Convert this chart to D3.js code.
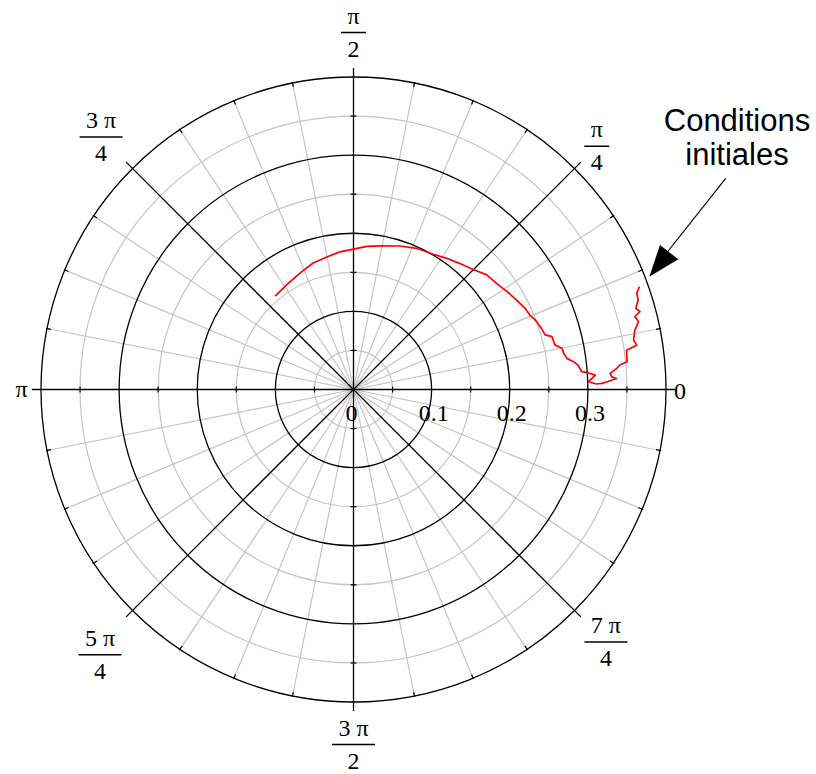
<!DOCTYPE html>
<html>
<head>
<meta charset="utf-8">
<script src="https://cdn.jsdelivr.net/npm/d3@7"></script>
<style>
  body { margin: 0; background: #fff; }
  svg { display: block; }
</style>
</head>
<body>
<svg id="vis"></svg>
<script>
// trajectory, starting at the initial conditions (outer end)
const thetaDeg = [19.8, 18.8, 17.5, 16.0, 15.2, 14.5, 13.4, 11.9, 10.0, 8.9,
  8.2, 5.8, 5.3, 4.6, 3.6, 2.8, 2.4, 1.8, 1.4, 1.3,
  1.9, 3.4, 4.1, 4.5, 6.2, 7.2, 8.3, 9.8, 11.2, 12.5,
  14.9, 15.9, 18.0, 21.0, 22.9, 25.3, 28.7, 32.6, 36.6, 40.7,
  45.1, 49.8, 54.6, 59.5, 65.9, 72.1, 79.6, 84.7, 89.4, 95.6,
  101.4, 107.7, 114.7, 122.6, 130.0];
const radius = [0.389, 0.383, 0.382, 0.376, 0.380, 0.372, 0.375, 0.368, 0.364, 0.367,
  0.353, 0.352, 0.343, 0.338, 0.329, 0.331, 0.337, 0.326, 0.318, 0.311,
  0.301, 0.310, 0.301, 0.293, 0.289, 0.284, 0.276, 0.273, 0.272, 0.264,
  0.263, 0.255, 0.253, 0.249, 0.245, 0.243, 0.238, 0.233, 0.228, 0.225,
  0.217, 0.211, 0.206, 0.201, 0.198, 0.193, 0.187, 0.184, 0.180, 0.177,
  0.173, 0.170, 0.164, 0.159, 0.156];

const majorRings = [0.1, 0.2, 0.3, 0.4];
const minorRings = [0.05, 0.15, 0.25, 0.35];
const radialTicks = [0, 0.1, 0.2, 0.3];
const radialTickLabels = ["0", "0.1", "0.2", "0.3"];
const spokeCount = 32;

// angle labels: [numerator, denominator], at multiples of pi/4
const angleNums = ["0", "π", "3 π", "π", "5 π", "3 π", "7 π"];
const angleDens = ["", "4", "4", "2", "4", "2", "4"];
const angleSteps = [0, 1, 3, 2, 5, 6, 7];

let config = { 'svg': {}, 'plot': {} };
config.svg.width = 816;
config.svg.height = 774;
config.plot.cx = 353.5;
config.plot.cy = 389.5;
config.plot.r = 312.5;

const svg = d3.select("svg#vis")
  .attr('width', config.svg.width)
  .attr('height', config.svg.height);

let scale = {};
scale.r = d3.scaleLinear().domain([0, 0.4]).range([0, config.plot.r]);

let plot = svg.append('g')
  .attr('transform', translate(config.plot.cx, config.plot.cy));

function px(rad, a) { return rad * Math.cos(a); }
function py(rad, a) { return -rad * Math.sin(a); }

// grey grid
let spokes = d3.range(spokeCount).map(i => i * 2 * Math.PI / spokeCount);

plot.selectAll('circle.minor')
  .data(minorRings)
  .enter()
  .append('circle')
  .attr('r', d => scale.r(d))
  .attr('fill', 'none')
  .attr('stroke', '#c4c4c4')
  .attr('stroke-width', 1.2);

plot.selectAll('line.minorSpoke')
  .data(spokes.filter((d, i) => i % 4 !== 0))
  .enter()
  .append('line')
  .attr('x1', 0).attr('y1', 0)
  .attr('x2', d => px(config.plot.r, d))
  .attr('y2', d => py(config.plot.r, d))
  .attr('stroke', '#c4c4c4')
  .attr('stroke-width', 1.2);

// black grid
plot.selectAll('circle.major')
  .data(majorRings)
  .enter()
  .append('circle')
  .attr('r', d => scale.r(d))
  .attr('fill', 'none')
  .attr('stroke', '#000')
  .attr('stroke-width', 1.3);

plot.selectAll('line.majorSpoke')
  .data(spokes.filter((d, i) => i % 4 === 0))
  .enter()
  .append('line')
  .attr('x1', 0).attr('y1', 0)
  .attr('x2', d => px(config.plot.r + 9, d))
  .attr('y2', d => py(config.plot.r + 9, d))
  .attr('stroke', '#000')
  .attr('stroke-width', 1.3);

// ticks on the outer ring
plot.selectAll('line.ringTick')
  .data(spokes.filter((d, i) => i % 4 !== 0))
  .enter()
  .append('line')
  .attr('x1', d => px(config.plot.r - 4, d))
  .attr('y1', d => py(config.plot.r - 4, d))
  .attr('x2', d => px(config.plot.r + 1, d))
  .attr('y2', d => py(config.plot.r + 1, d))
  .attr('stroke', '#000')
  .attr('stroke-width', 1.2);

// ticks on the axes
let axisTicks = [];
[0, 1, 2, 3].forEach(q => minorRings.forEach(v => axisTicks.push({ v: v, a: q * Math.PI / 2 })));
plot.selectAll('line.axisTick')
  .data(axisTicks)
  .enter()
  .append('line')
  .attr('x1', d => px(scale.r(d.v), d.a) - 3 * Math.sin(d.a))
  .attr('y1', d => py(scale.r(d.v), d.a) - 3 * Math.cos(d.a))
  .attr('x2', d => px(scale.r(d.v), d.a) + 3 * Math.sin(d.a))
  .attr('y2', d => py(scale.r(d.v), d.a) + 3 * Math.cos(d.a))
  .attr('stroke', '#000')
  .attr('stroke-width', 1.2);

// radial tick labels
plot.selectAll('text.rlabel')
  .data(radialTicks)
  .enter()
  .append('text')
  .attr('x', d => scale.r(d) + (d === 0 ? -2 : 2))
  .attr('y', 31)
  .attr('text-anchor', 'middle')
  .attr('font-family', '"Liberation Serif", "Times New Roman", serif')
  .attr('font-size', '24px')
  .text((d, i) => radialTickLabels[i]);

// the curve
let points = thetaDeg.map((t, i) => ({ a: t * Math.PI / 180, r: radius[i] }));
let line = d3.line()
  .x(d => px(scale.r(d.r), d.a))
  .y(d => py(scale.r(d.r), d.a));

plot.append('path')
  .datum(points)
  .attr('d', line)
  .attr('fill', 'none')
  .attr('stroke', '#ff0000')
  .attr('stroke-width', 1.7)
  .attr('stroke-linejoin', 'round');

// angle labels
const serif = '"Liberation Serif", "Times New Roman", serif';
let angleData = angleSteps.map((s, i) => ({ step: s, num: angleNums[i], den: angleDens[i] }));

// where each fraction bar sits (distance from centre)
function labelDist(step) {
  if (step === 1) return 344;
  if (step === 5) return 375;
  if (step === 6) return 355;
  return 357;
}

angleData.forEach(d => {
  let a = d.step * Math.PI / 4;
  if (d.den === "") {
    plot.append('text')
      .attr('x', config.plot.r + 8)
      .attr('y', 9)
      .attr('font-family', serif)
      .attr('font-size', '24px')
      .text(d.num);
    return;
  }
  let lr = labelDist(d.step);
  let bx = px(lr, a), by = py(lr, a);
  if (d.step === 5) bx = -253.5;
  let w = d.num.length > 1 ? 43 : 25;
  let g = plot.append('g').attr('transform', translate(bx, by));
  g.append('line')
    .attr('x1', -w / 2).attr('x2', w / 2)
    .attr('y1', 0).attr('y2', 0)
    .attr('stroke', '#000')
    .attr('stroke-width', 1.5);
  g.append('text')
    .attr('x', 0).attr('y', -9)
    .attr('text-anchor', 'middle')
    .attr('font-family', serif)
    .attr('font-size', '24px')
    .attr('xml:space', 'preserve')
    .text(d.num);
  g.append('text')
    .attr('x', 0).attr('y', 24)
    .attr('text-anchor', 'middle')
    .attr('font-family', serif)
    .attr('font-size', '24px')
    .text(d.den);
});

// pi on the left
svg.append('text')
  .attr('x', 21.5)
  .attr('y', 397)
  .attr('text-anchor', 'middle')
  .attr('font-family', serif)
  .attr('font-size', '24px')
  .text('π');

// annotation
let note = svg.append('g').attr('id', 'note');
note.append('text')
  .attr('x', 737).attr('y', 131)
  .attr('text-anchor', 'middle')
  .attr('font-family', '"Liberation Sans", Arial, sans-serif')
  .attr('font-size', '31px')
  .text('Conditions');
note.append('text')
  .attr('x', 737).attr('y', 165)
  .attr('text-anchor', 'middle')
  .attr('font-family', '"Liberation Sans", Arial, sans-serif')
  .attr('font-size', '31px')
  .text('initiales');
note.append('line')
  .attr('x1', 725.7).attr('y1', 178.3)
  .attr('x2', 665).attr('y2', 255)
  .attr('stroke', '#000')
  .attr('stroke-width', 1.2);
note.append('path')
  .attr('d', 'M649.3,276.7 L660,245 L678.3,259.3 Z')
  .attr('fill', '#000');

function translate(x, y) {
  return 'translate(' + x + ',' + y + ')';
}
</script>
</body>
</html>
